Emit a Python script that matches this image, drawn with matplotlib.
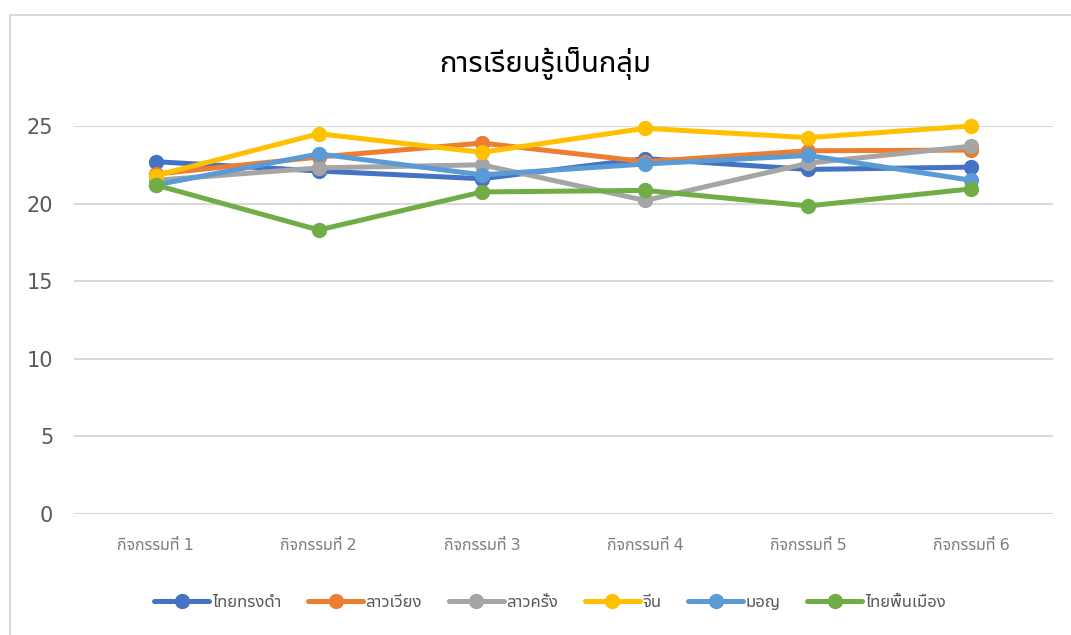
import matplotlib
matplotlib.use("Agg")
import matplotlib.pyplot as plt
from matplotlib.patches import Rectangle

plt.rcParams['font.family'] = ['Noto Sans Thai UI', 'DejaVu Sans']

activities = ["กิจกรรมที่ 1", "กิจกรรมที่ 2", "กิจกรรมที่ 3",
              "กิจกรรมที่ 4", "กิจกรรมที่ 5", "กิจกรรมที่ 6"]

thai_song_dam = [22.7, 22.1, 21.6, 22.9, 22.2, 22.35]
lao_wiang = [21.9, 23.0, 23.9, 22.7, 23.4, 23.45]
lao_khrang = [21.5, 22.3, 22.5, 20.2, 22.6, 23.7]
chinese = [21.8, 24.5, 23.3, 24.85, 24.25, 25.0]
mon = [21.2, 23.2, 21.85, 22.55, 23.1, 21.5]
thai_local = [21.2, 18.3, 20.75, 20.85, 19.85, 20.95]

series = [
    ("ไทยทรงดำ", thai_song_dam, "#4472C4"),
    ("ลาวเวียง", lao_wiang, "#ED7D31"),
    ("ลาวครั่ง", lao_khrang, "#A5A5A5"),
    ("จีน", chinese, "#FFC000"),
    ("มอญ", mon, "#5B9BD5"),
    ("ไทยพื้นเมือง", thai_local, "#70AD47"),
]

fig = plt.figure(figsize=(10.71, 6.35), dpi=100)
ax = fig.add_axes([0.0691, 0.1906, 0.9141, 0.611])

# chart border (cut off at right and bottom, as in the screenshot)
fig.patches.append(Rectangle((10 / 1071, -0.05), 1.1, 1 - 15 / 635 + 0.05,
                             transform=fig.transFigure, fill=False,
                             edgecolor="#D9D9D9", linewidth=1.5))

x = range(len(activities))
for name, vals, col in series:
    ax.plot(x, vals, color=col, lw=3.6, marker="o", ms=10, label=name,
            clip_on=False, solid_capstyle="round", zorder=3)

ax.set_xlim(-0.5, 5.5)
ax.set_ylim(0, 25)
ax.set_yticks([0, 5, 10, 15, 20, 25])
ax.set_xticks(list(x))
ax.set_xticklabels(activities, fontsize=11.5, color="#7F7F7F")
ax.tick_params(axis="y", labelsize=15, labelcolor="#595959", length=0, pad=15)
ax.tick_params(axis="x", length=0, pad=17)
ax.grid(axis="y", color="#D9D9D9", lw=1.5)
ax.set_axisbelow(True)
for s in ax.spines.values():
    s.set_visible(False)

fig.text(0.509, 0.90, "การเรียนรู้เป็นกลุ่ม", ha="center", va="center",
         fontsize=21, color="#000000", fontweight="light")

leg = fig.legend(loc="center", bbox_to_anchor=(0.5135, 0.052), ncol=6,
                 frameon=False, fontsize=12, handlelength=3.3,
                 handletextpad=0.15, columnspacing=1.6)
for t in leg.get_texts():
    t.set_color("#595959")

fig.savefig("out.png")
